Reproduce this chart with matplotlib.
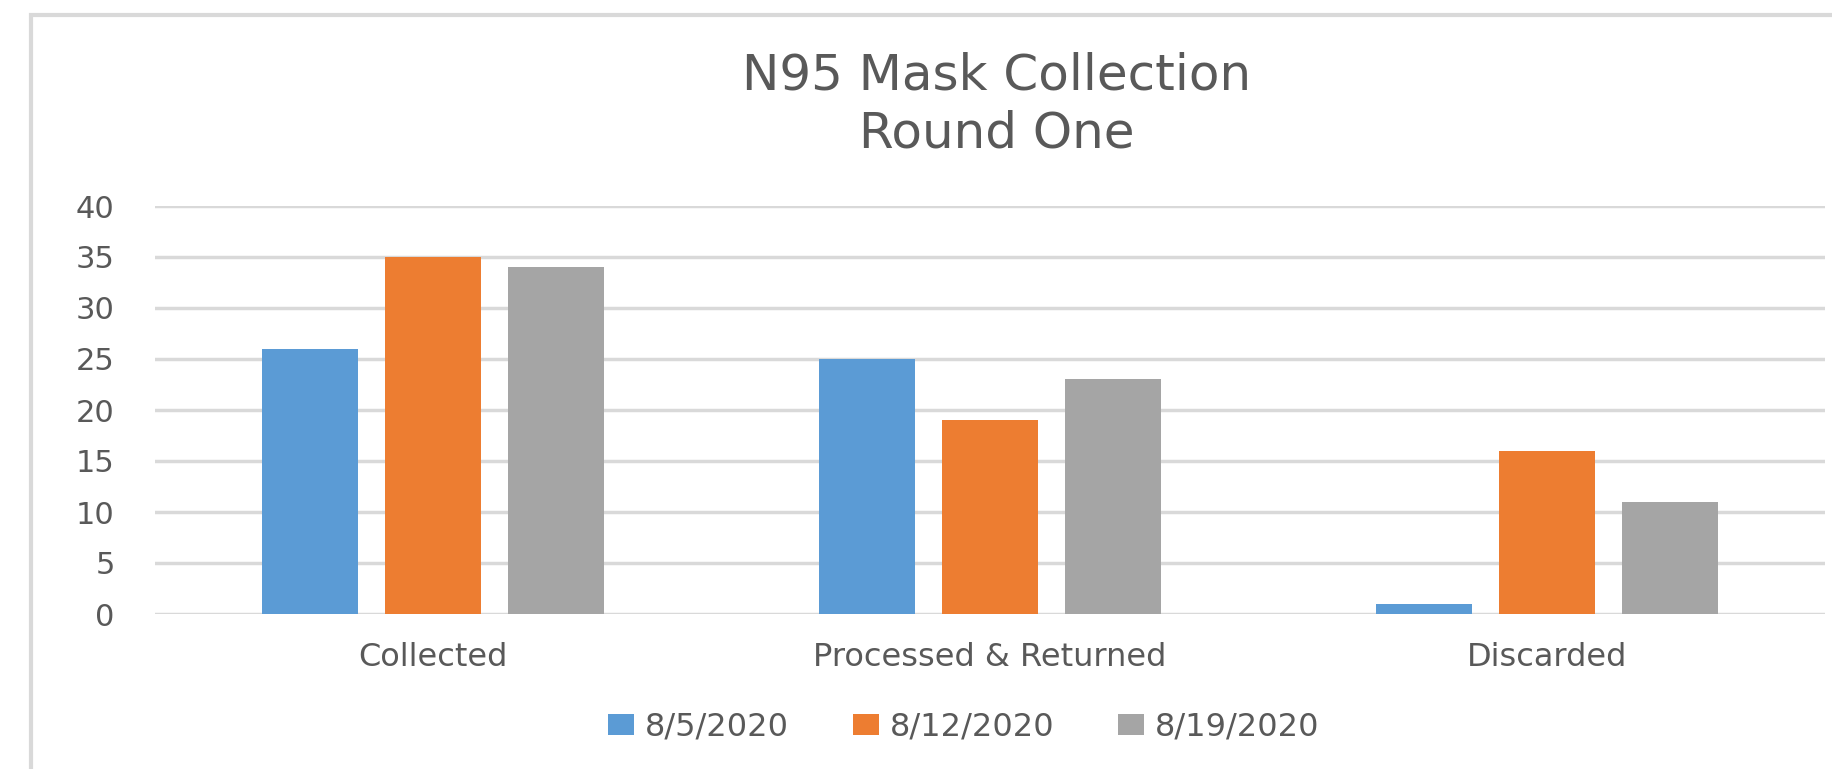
# Importation des modules
import matplotlib
matplotlib.use("Agg")
import matplotlib.pyplot as plt
import numpy as np
from matplotlib.patches import Rectangle

# Données
categories = ["Collected", "Processed & Returned", "Discarded"]
dates = ["8/5/2020", "8/12/2020", "8/19/2020"]
val_0805 = [26, 25, 1]
val_0812 = [35, 19, 16]
val_0819 = [34, 23, 11]
couleurs = ["#5B9BD5", "#ED7D31", "#A5A5A5"]
yticks = [0, 5, 10, 15, 20, 25, 30, 35, 40]

texte = "#595959"
grille = "#D9D9D9"
plt.rcParams['font.family'] = ['DejaVu Sans']

fig = plt.figure(figsize=(18.32, 7.69), dpi=100)
ax = fig.add_axes([155/1832, (769-614)/769, (1825-155)/1832, (614-206)/769])

# Barres groupées
x = np.arange(len(categories))
largeur = 0.172
decal = 0.221
for i, (serie, lab) in enumerate(zip([val_0805, val_0812, val_0819], dates)):
    ax.bar(x + (i - 1)*decal, serie, largeur, color=couleurs[i], label=lab, zorder=3)

ax.set_xlim(-0.5, 2.5)
ax.set_ylim(0, 40)
ax.set_yticks(yticks)
ax.set_xticks(x)
ax.set_xticklabels(categories)
ax.grid(axis='y', color=grille, linewidth=2.5, zorder=0)
for s in ax.spines.values():
    s.set_visible(False)
ax.tick_params(axis='both', length=0, colors=texte)
ax.tick_params(axis='y', pad=29, labelsize=22)
ax.tick_params(axis='x', pad=20, labelsize=23)

# Titre
fig.text(997/1832, (769-89)/769, "N95 Mask Collection", ha='center', va='baseline',
         fontsize=36, color=texte)
fig.text(997/1832, (769-148)/769, "Round One", ha='center', va='baseline',
         fontsize=36, color=texte)

# Légende
leg = ax.legend(loc='center', bbox_to_anchor=(964/1832, (769-727)/769),
                bbox_transform=fig.transFigure, ncol=3, frameon=False,
                fontsize=23, handlelength=0.8, handleheight=0.65,
                handletextpad=0.35, columnspacing=2.0)
for t in leg.get_texts():
    t.set_color(texte)

# Cadre du graphique
fig.patches.append(Rectangle((31/1832, -0.1), 1.2, (769-15)/769 + 0.1,
                             transform=fig.transFigure, fill=False,
                             edgecolor=grille, linewidth=3))

plt.savefig("out.png", dpi=100)
